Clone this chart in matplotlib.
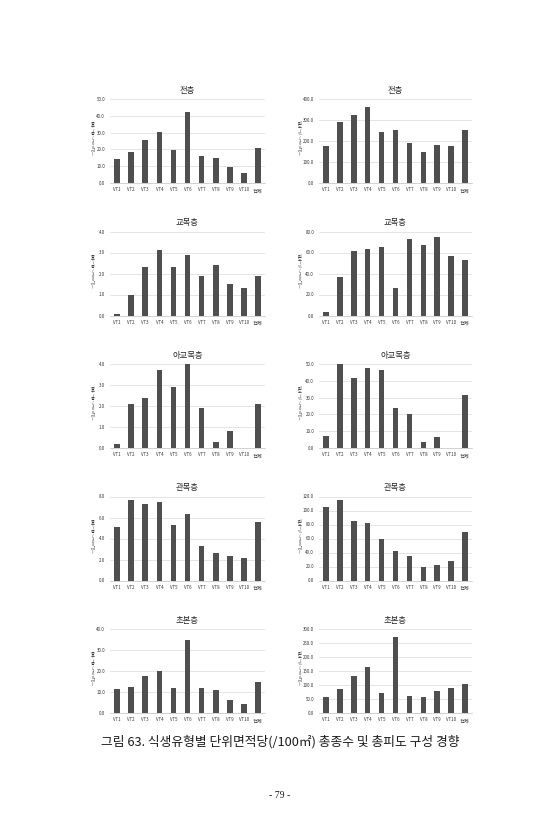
import numpy as np
import matplotlib
matplotlib.use("Agg")
import matplotlib.pyplot as plt
from matplotlib.transforms import ScaledTranslation

plt.rcParams['font.family'] = ['Noto Sans CJK KR', 'DejaVu Sans']

# Categories (x axis)
categories = ["VT1", "VT2", "VT3", "VT4", "VT5", "VT6", "VT7", "VT8", "VT9", "VT10", "전체"]

# Layer titles, one per row
layers = ["전층", "교목층", "아교목층", "관목층", "초본층"]

# Species count per 100 m2 (left column)
species_all = [14.5, 18.2, 25.8, 30.6, 19.8, 42.2, 15.9, 14.6, 9.3, 6.1, 21.0]
species_tree = [0.05, 1.0, 2.3, 3.1, 2.3, 2.9, 1.9, 2.4, 1.5, 1.3, 1.9]
species_subtree = [0.2, 2.1, 2.4, 3.7, 2.9, 4.0, 1.9, 0.3, 0.8, 0.0, 2.1]
species_shrub = [5.1, 7.7, 7.3, 7.5, 5.3, 6.3, 3.3, 2.65, 2.3, 2.1, 5.6]
species_herb = [11.4, 12.6, 17.7, 19.8, 12.0, 34.9, 11.9, 10.8, 6.2, 4.3, 14.9]

# Coverage per 100 m2 (right column)
cover_all = [175, 290, 322, 360, 242, 252, 191, 150, 183, 175, 252]
cover_tree = [2.9, 37.1, 61.9, 62.9, 65.7, 26.0, 72.7, 67.3, 74.6, 56.2, 52.7]
cover_subtree = [7.3, 49.8, 41.5, 47.4, 46.2, 23.9, 20.5, 3.4, 6.7, 0.0, 31.8]
cover_shrub = [104.5, 114.4, 84.7, 81.9, 58.8, 41.9, 35.3, 19.3, 22.1, 28.2, 68.7]
cover_herb = [58, 85, 132, 165, 70, 270, 62, 58, 79, 88, 104]

left_data = [species_all, species_tree, species_subtree, species_shrub, species_herb]
right_data = [cover_all, cover_tree, cover_subtree, cover_shrub, cover_herb]

# y axis (max, step) per panel
left_axis = [(50, 10), (4, 1), (4, 1), (8, 2), (40, 10)]
right_axis = [(400, 100), (80, 20), (50, 10), (120, 20), (300, 50)]

left_ylabel = "종수(종/100㎡)"
right_ylabel = "피도(%/100㎡)"

caption = "그림 63. 식생유형별 단위면적당(/100㎡) 총종수 및 총피도 구성 경향"
page_no = "- 79 -"

W, H = 560, 840
BAR_COLOR = "#4f4f4f"
GRID_COLOR = "#d9d9d9"


def draw_panel(fig, ax, values, ymax, step, title, ylabel, label_dx):
    x = np.arange(len(categories))
    ax.bar(x, values, width=0.4, color=BAR_COLOR, zorder=3)
    ax.set_xlim(-0.5, len(categories) - 0.5)
    ax.set_ylim(0, ymax)
    ticks = np.arange(0, ymax + step / 2, step)
    ax.set_yticks(ticks)
    ax.set_yticklabels([f"{t:.1f}" for t in ticks])
    ax.set_xticks(x)
    ax.set_xticklabels(categories)
    ax.tick_params(axis='both', length=0, labelsize=3.2, colors="#333333")
    ax.tick_params(axis='y', pad=3.5)
    ax.tick_params(axis='x', pad=3.0)
    # the "전체" label sits a little lower and larger, as in the source
    last = ax.get_xticklabels()[-1]
    last.set_fontsize(3.8)
    last.set_transform(last.get_transform() +
                       ScaledTranslation(0, -0.8 / 72, fig.dpi_scale_trans))
    ax.grid(axis='y', color=GRID_COLOR, linewidth=0.5, zorder=0)
    for side in ["left", "right", "top"]:
        ax.spines[side].set_visible(False)
    ax.spines["bottom"].set_color("#bfbfbf")
    ax.spines["bottom"].set_linewidth(0.5)
    ax.set_title(title, fontsize=6, pad=4.5, color="#262626")
    # stacked vertical axis title, as in the spreadsheet export
    ax.text(label_dx, 0.52, "\n".join(ylabel), transform=ax.transAxes,
            fontsize=3.0, linespacing=0.8, ha='center', va='center',
            color="#333333")


fig = plt.figure(figsize=(W / 100, H / 100), dpi=100)
fig.patch.set_facecolor("white")

plot_h = 84
for i in range(5):
    top = 99 + i * 132.5
    bottom = 1 - (top + plot_h) / H
    axl = fig.add_axes([110 / W, bottom, 155 / W, plot_h / H])
    ymax, step = left_axis[i]
    draw_panel(fig, axl, left_data[i], ymax, step, layers[i], left_ylabel, -17 / 155)
    axr = fig.add_axes([319 / W, bottom, 153 / W, plot_h / H])
    ymax, step = right_axis[i]
    draw_panel(fig, axr, right_data[i], ymax, step, layers[i], right_ylabel, -19 / 153)

fig.text(280 / W, 1 - 742 / H, caption, fontsize=9.2, ha='center', va='center',
         color="#1a1a1a")
fig.text(280 / W, 1 - 796 / H, page_no, fontsize=7, ha='center', va='center',
         family=['Liberation Serif'], color="#1a1a1a")

fig.savefig("out.png", dpi=100)
